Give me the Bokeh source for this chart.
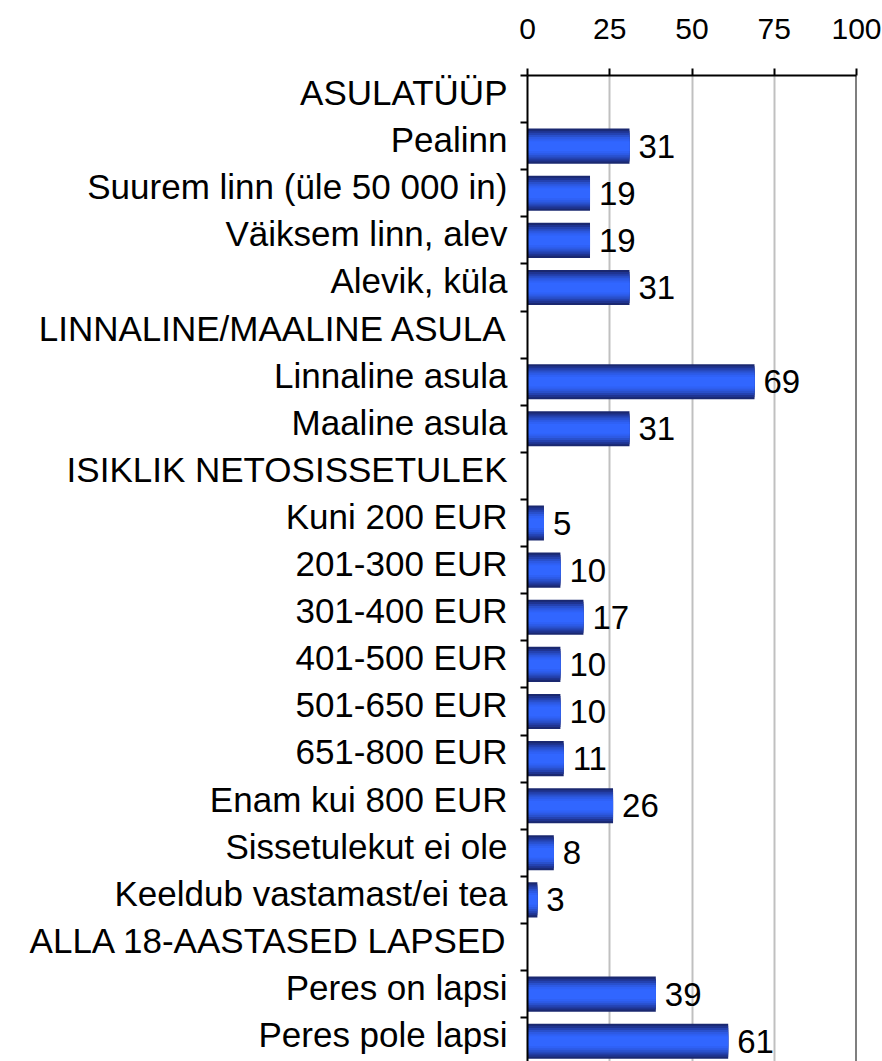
import math
from bokeh.plotting import figure
from bokeh.models import ColumnDataSource, FixedTicker, Range1d, Span
from bokeh.core.properties import value
from bokeh.embed import file_html
from bokeh.resources import INLINE

categories = [
    "ASULATÜÜP",
    "Pealinn",
    "Suurem linn (üle 50 000 in)",
    "Väiksem linn, alev",
    "Alevik, küla",
    "LINNALINE/MAALINE ASULA",
    "Linnaline asula",
    "Maaline asula",
    "ISIKLIK NETOSISSETULEK",
    "Kuni 200 EUR",
    "201-300 EUR",
    "301-400 EUR",
    "401-500 EUR",
    "501-650 EUR",
    "651-800 EUR",
    "Enam kui 800 EUR",
    "Sissetulekut ei ole",
    "Keeldub vastamast/ei tea",
    "ALLA 18-AASTASED LAPSED",
    "Peres on lapsi",
    "Peres pole lapsi",
]
values = [None, 31, 19, 19, 31, None, 69, 31, None, 5, 10, 17, 10, 10, 11, 26, 8, 3, None, 39, 61]
x_ticks = [0, 25, 50, 75, 100]

FONT = "Liberation Sans"
ROW = 100  # y units per category row
n = len(categories)

centers = [ROW * i + ROW / 2 for i in range(n)]
label_pos = [ROW * i + 36 for i in range(n)]

bar_y = [centers[i] for i in range(n) if values[i] is not None]
bar_v = [values[i] for i in range(n) if values[i] is not None]
src = ColumnDataSource(dict(y=bar_y, v=bar_v, lbl=[str(v) for v in bar_v]))

p = figure(
    width=882, height=1061,
    x_range=Range1d(0, 100), y_range=Range1d(ROW * 20.93, 0),
    x_axis_location="above",
    output_backend="svg", toolbar_location=None,
    min_border_left=527, min_border_right=26, min_border_top=75, min_border_bottom=0,
)
p.outline_line_color = None
p.background_fill_color = "white"
p.border_fill_color = "white"

# gradient-like bars (dark edges, bright centre)
layers = [
    (1.00, "#1a2870"),
    (0.88, "#1f3491"),
    (0.76, "#2442b0"),
    (0.64, "#2950cc"),
    (0.52, "#2d5ae4"),
    (0.40, "#2f61f5"),
    (0.28, "#3166ff"),
]
bar_h = 0.745 * ROW
for frac, col in layers:
    p.hbar(y="y", left=0, right="v", height=bar_h * frac, source=src,
           fill_color=col, line_color=None)

p.text(x="v", y="y", text="lbl", source=src, x_offset=9,
       text_baseline="middle", text_align="left",
       text_font=value(FONT), text_font_size="33px", text_color="black")

# grid
p.xgrid.ticker = FixedTicker(ticks=[25, 50, 75])
p.xgrid.grid_line_color = "#c0c0c0"
p.xgrid.grid_line_width = 2
p.ygrid.grid_line_color = None

p.add_layout(Span(location=100, dimension="height", line_color="black", line_width=2))

# top axis
xa = p.xaxis[0]
xa.ticker = FixedTicker(ticks=x_ticks)
xa.axis_line_color = "black"
xa.axis_line_width = 2
xa.major_tick_out = 7
xa.major_tick_in = 0
xa.major_tick_line_width = 2
xa.minor_tick_line_color = None
xa.major_label_text_font = FONT
xa.major_label_text_font_size = "30px"
xa.major_label_text_color = "black"
xa.major_label_standoff = 30

# left axis
ya = p.yaxis[0]
ya.ticker = FixedTicker(ticks=label_pos, minor_ticks=[ROW * i for i in range(n + 1)])
ya.major_label_overrides = {label_pos[i]: categories[i] for i in range(n)}
ya.axis_line_color = "black"
ya.axis_line_width = 2
ya.major_tick_line_color = None
ya.major_tick_out = 0
ya.major_tick_in = 0
ya.minor_tick_out = 7
ya.minor_tick_in = 0
ya.minor_tick_line_color = "black"
ya.minor_tick_line_width = 2
ya.major_label_text_font = FONT
ya.major_label_text_font_size = "35px"
ya.major_label_text_color = "black"
ya.major_label_standoff = 13

open("out.html", "w").write(file_html(p, INLINE))
